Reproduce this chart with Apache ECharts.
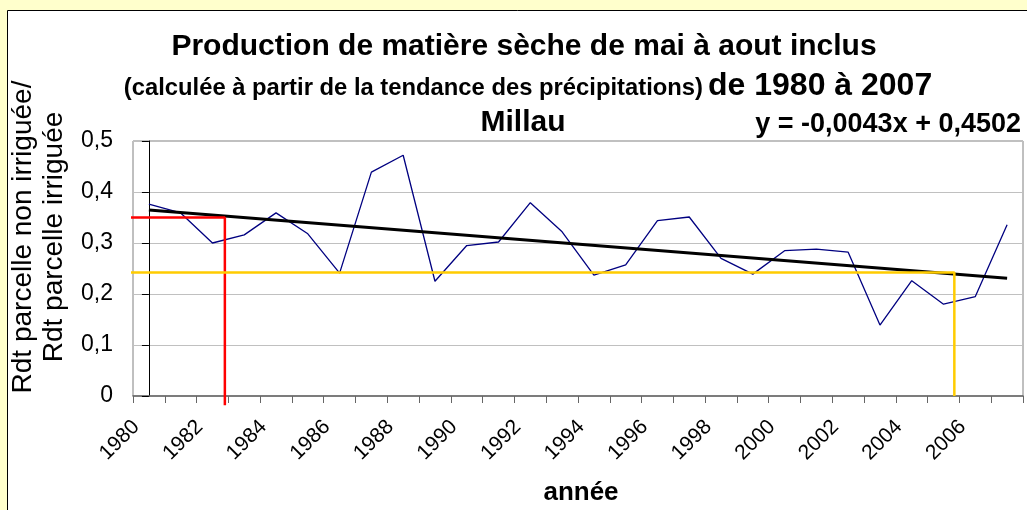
<!DOCTYPE html>
<html><head><meta charset="utf-8">
<script src="https://cdn.jsdelivr.net/npm/echarts@6/dist/echarts.min.js"></script>
<style>html,body{margin:0;padding:0;background:#FFFFCC}#c{width:1027px;height:510px}</style>
</head><body><div id="c"></div>
<script>
const years = ['1980','1981','1982','1983','1984','1985','1986','1987','1988','1989','1990','1991','1992','1993','1994','1995','1996','1997','1998','1999','2000','2001','2002','2003','2004','2005','2006','2007'];
const ratio = [0.376,0.359,0.300,0.316,0.359,0.318,0.241,0.439,0.472,0.225,0.295,0.302,0.379,0.322,0.237,0.257,0.344,0.351,0.270,0.239,0.285,0.288,0.282,0.139,0.226,0.180,0.195,0.336];
const trendYears = ['1980','2007'];
const trendValues = [0.3647,0.2308];
const redX = [-1.22,2.39,2.39];
const redY = [0.35,0.35,-0.018];
const yellowX = [-1.22,25.34,25.34];
const yellowY = [0.242,0.242,0];
const yMin = 0, yMax = 0.5, yStep = 0.1;
const titleLine1 = 'Production de matière sèche de mai à aout inclus';
const titleLine2a = '(calculée à partir de la tendance des précipitations)';
const titleLine2b = 'de 1980 à 2007';
const titleLine3 = 'Millau';
const equation = 'y = -0,0043x + 0,4502';
const yName = 'Rdt parcelle non irriguée/\nRdt parcelle irriguée';
const xName = 'année';

const FF = 'Arial, "Liberation Sans", sans-serif';
const chart = echarts.init(document.getElementById('c'), null, {renderer:'canvas'});
const zip = (a,b) => a.map((v,i)=>[v,b[i]]);
chart.setOption({
  backgroundColor:'#FFFFCC',
  animation:false,
  textStyle:{fontFamily:FF},
  graphic:[
    {type:'rect', z:-10, shape:{x:7.5,y:10.5,width:1040,height:520}, style:{fill:'#FFFFFF',stroke:'#000000',lineWidth:1}},
    {type:'text', x:524, y:47, style:{text:titleLine1, font:'bold 30px '+FF, textAlign:'center', textVerticalAlign:'middle', fill:'#000'}},
    {type:'text', x:703, y:100, style:{text:titleLine2a, font:'bold 23.8px '+FF, textAlign:'right', textVerticalAlign:'bottom', fill:'#000'}},
    {type:'text', x:708, y:102, style:{text:titleLine2b, font:'bold 32px '+FF, textAlign:'left', textVerticalAlign:'bottom', fill:'#000'}},
    {type:'text', x:523, y:123, style:{text:titleLine3, font:'bold 30px '+FF, textAlign:'center', textVerticalAlign:'middle', fill:'#000'}},
    {type:'text', x:1021, y:125, style:{text:equation, font:'bold 27px '+FF, textAlign:'right', textVerticalAlign:'middle', fill:'#000'}},
    {type:'text', x:39, y:237, rotation:Math.PI/2, style:{text:yName, font:'28px '+FF, textAlign:'center', textVerticalAlign:'middle', lineHeight:31, fill:'#000'}},
    {type:'text', x:581, y:493, style:{text:xName, font:'bold 26px '+FF, textAlign:'center', textVerticalAlign:'middle', fill:'#000'}}
  ],
  grid:{left:133, top:141, width:890, height:255, show:true, backgroundColor:'#FFFFFF', borderColor:'#808080', borderWidth:1},
  xAxis:[{
    type:'category', data:years, boundaryGap:true,
    axisLine:{lineStyle:{color:'#666666', width:1.5}},
    axisTick:{show:true, interval:0, length:7, lineStyle:{color:'#666666'}},
    axisLabel:{interval:1, rotate:45, fontSize:21, color:'#000', fontFamily:FF, margin:15, padding:[0,18,0,0]},
    splitLine:{show:false}
  },{
    type:'value', min:-0.5, max:27.5, show:false
  }],
  yAxis:{
    type:'value', min:yMin, max:yMax, interval:yStep,
    axisLine:{show:true, lineStyle:{color:'#000000', width:1}},
    axisTick:{show:true, length:7, lineStyle:{color:'#000000'}},
    axisLabel:{fontSize:23, color:'#000', fontFamily:FF, margin:20, formatter:v=> v===0?'0':v.toFixed(1).replace('.',',')},
    splitLine:{show:true, lineStyle:{color:'#C0C0C0', width:1}}
  },
  series:[
    {type:'line', data:ratio, symbol:'none', lineStyle:{color:'#000080', width:1.3}, z:3},
    {type:'line', data:zip(trendYears,trendValues), symbol:'none', lineStyle:{color:'#000000', width:3}, z:4},
    {type:'line', xAxisIndex:1, data:zip(redX,redY), symbol:'none', clip:false, lineStyle:{color:'#FF0000', width:2.5}, z:5},
    {type:'line', xAxisIndex:1, data:zip(yellowX,yellowY), symbol:'none', clip:false, lineStyle:{color:'#FFCC00', width:2.5}, z:5}
  ]
});
</script></body></html>
